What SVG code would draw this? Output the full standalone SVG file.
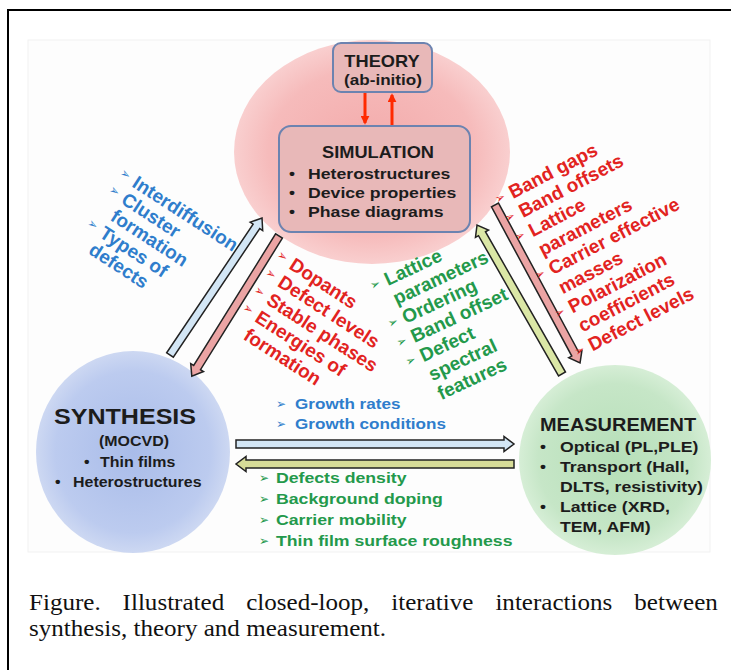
<svg xmlns="http://www.w3.org/2000/svg" width="731" height="670" viewBox="0 0 731 670">
<defs>
<radialGradient id="pinkG" cx="50%" cy="50%" r="50%"><stop offset="0" stop-color="#f3aaaa"/><stop offset="0.75" stop-color="#f6bbbb"/><stop offset="1" stop-color="#f9cfcf"/></radialGradient>
<radialGradient id="blueG" cx="50%" cy="50%" r="50%"><stop offset="0" stop-color="#a9bce9"/><stop offset="0.8" stop-color="#bccbef"/><stop offset="1" stop-color="#cdd8f2"/></radialGradient>
<radialGradient id="greenG" cx="50%" cy="50%" r="50%"><stop offset="0" stop-color="#b6dfb8"/><stop offset="0.8" stop-color="#c6e6c7"/><stop offset="1" stop-color="#d6eed6"/></radialGradient>
<marker id="rh" viewBox="0 0 10 10" refX="8" refY="5" markerWidth="3" markerHeight="3" orient="auto"><path d="M0,0 L10,5 L0,10 z" fill="#ff2a00"/></marker>
<style>
.b{font-family:"Liberation Sans",Arial,sans-serif;font-weight:bold}
.k{fill:#1c1c1c}
.bl{fill:#2f7dcc}
.rd{fill:#e2231f}
.gn{fill:#23994b}
.bu{font-family:"DejaVu Sans",sans-serif;font-size:12px}
.box{fill:#e8b8b8;stroke:#6c83b0;stroke-width:2}
.arr{stroke:#222;stroke-width:1.5;stroke-linejoin:miter}
.cap{font-family:"Liberation Serif","Times New Roman",serif;font-size:23px;fill:#111}
</style>
</defs>
<rect x="0" y="0" width="731" height="670" fill="#fff"/>
<rect x="8" y="10" width="760" height="700" fill="#fff" stroke="#000" stroke-width="2"/>
<rect x="28" y="40" width="682" height="512" fill="#fdfdfd" stroke="#f1f1f1"/>

<g id="theory-sim">
<ellipse cx="372" cy="152" rx="138" ry="112" fill="url(#pinkG)"/>
</g>
<g id="synthesis">
<ellipse cx="133" cy="452" rx="97" ry="101" fill="url(#blueG)"/>
<text class="b k" font-size="22" text-anchor="middle" transform="matrix(1.14 0 0 1 125 424)">SYNTHESIS</text>
<text class="b k" font-size="14" text-anchor="middle" transform="matrix(1.14 0 0 1 134 446)">(MOCVD)</text>
<text class="b k" font-size="14" transform="matrix(1.14 0 0 1 84 467)">•</text>
<text class="b k" font-size="14" transform="matrix(1.14 0 0 1 100 467)">Thin films</text>
<text class="b k" font-size="14" transform="matrix(1.14 0 0 1 55 487)">•</text>
<text class="b k" font-size="14" transform="matrix(1.14 0 0 1 73 487)">Heterostructures</text>
</g>
<g id="measurement">
<ellipse cx="615" cy="460" rx="96" ry="95" fill="url(#greenG)"/>
<text class="b k" font-size="17.5" transform="matrix(1.14 0 0 1 540 431)">MEASUREMENT</text>
<text class="b k" font-size="15" transform="matrix(1.14 0 0 1 540 452)">•</text>
<text class="b k" font-size="15.5" transform="matrix(1.14 0 0 1 560 452)">Optical (PL,PLE)</text>
<text class="b k" font-size="15" transform="matrix(1.14 0 0 1 540 472)">•</text>
<text class="b k" font-size="15.5" transform="matrix(1.14 0 0 1 560 472)">Transport (Hall,</text>
<text class="b k" font-size="15.5" transform="matrix(1.14 0 0 1 560 492)">DLTS, resistivity)</text>
<text class="b k" font-size="15" transform="matrix(1.14 0 0 1 540 512)">•</text>
<text class="b k" font-size="15.5" transform="matrix(1.14 0 0 1 560 512)">Lattice (XRD,</text>
<text class="b k" font-size="15.5" transform="matrix(1.14 0 0 1 560 532)">TEM, AFM)</text>
</g>
<g id="theory">
<rect class="box" x="333" y="43" width="99" height="49" rx="8"/>
<text class="b k" font-size="16" text-anchor="middle" transform="matrix(1.14 0 0 1 382 67)">THEORY</text>
<text class="b k" font-size="15" text-anchor="middle" transform="matrix(1.14 0 0 1 383 85)">(ab-initio)</text>
</g>
<g id="simulation">
<rect class="box" x="279" y="126" width="191" height="106" rx="12"/>
<text class="b k" font-size="16" text-anchor="middle" transform="matrix(1.14 0 0 1 378 158)">SIMULATION</text>
<text class="b k" font-size="15" transform="matrix(1.14 0 0 1 289 179)">•</text>
<text class="b k" font-size="15.5" transform="matrix(1.14 0 0 1 308 179)">Heterostructures</text>
<text class="b k" font-size="15" transform="matrix(1.14 0 0 1 289 198)">•</text>
<text class="b k" font-size="15.5" transform="matrix(1.14 0 0 1 308 198)">Device properties</text>
<text class="b k" font-size="15" transform="matrix(1.14 0 0 1 289 217)">•</text>
<text class="b k" font-size="15.5" transform="matrix(1.14 0 0 1 308 217)">Phase diagrams</text>
</g>

<g id="connectors">
<line x1="365" y1="93" x2="365" y2="123" stroke="#ff2a00" stroke-width="3" marker-end="url(#rh)"/>
<line x1="392" y1="125" x2="392" y2="95" stroke="#ff2a00" stroke-width="3" marker-end="url(#rh)"/>
<polygon class="arr" fill="#d3e6f5" transform="translate(170 355) rotate(-56.1)" points="0,-4 155,-4 155,-7.5 165,0 155,7.5 155,4 0,4"/>
<polygon class="arr" fill="#eba4a4" transform="translate(279 236) rotate(121.9)" points="0,-4 155,-4 155,-7.5 165,0 155,7.5 155,4 0,4"/>
<polygon class="arr" fill="#dbe7a6" transform="translate(562 374) rotate(-119.7)" points="0,-4 161.5,-4 161.5,-7.5 171.5,0 161.5,7.5 161.5,4 0,4"/>
<polygon class="arr" fill="#eba4a4" transform="translate(495 205) rotate(61.7)" points="0,-4 169.4,-4 169.4,-7.5 179.4,0 169.4,7.5 169.4,4 0,4"/>
<polygon class="arr" fill="#d3e6f5" transform="translate(236 444)" points="0,-4 268,-4 268,-7.5 278,0 268,7.5 268,4 0,4"/>
<polygon class="arr" fill="#d7dc98" transform="translate(514 464) rotate(180)" points="0,-4 268,-4 268,-7.5 278,0 268,7.5 268,4 0,4"/>
</g>

<g id="labels-syn-sim" class="b bl" font-size="19" transform="translate(131 186) rotate(33)">
<text class="bu" x="-16" y="-3">➢</text><text x="0" y="0">Interdiffusion</text>
<text class="bu" x="-16" y="17">➢</text><text x="0" y="20">Cluster</text>
<text x="0" y="40">formation</text>
<text class="bu" x="-16" y="57">➢</text><text x="0" y="60">Types of</text>
<text x="0" y="80">defects</text>
</g>
<g id="labels-sim-syn" class="b rd" font-size="19" transform="translate(288 268) rotate(33)">
<text class="bu" x="-16" y="-3">➢</text><text x="0" y="0">Dopants</text>
<text class="bu" x="-16" y="18">➢</text><text x="0" y="21">Defect levels</text>
<text class="bu" x="-16" y="39">➢</text><text x="0" y="42">Stable phases</text>
<text class="bu" x="-16" y="60">➢</text><text x="0" y="63">Energies of</text>
<text x="0" y="84">formation</text>
</g>
<g id="labels-meas-sim" class="b gn" font-size="19" transform="translate(388 286) rotate(-25)">
<text class="bu" x="-16" y="-3">➢</text><text x="0" y="0">Lattice</text>
<text x="0" y="21">parameters</text>
<text class="bu" x="-16" y="39">➢</text><text x="0" y="42">Ordering</text>
<text class="bu" x="-16" y="60">➢</text><text x="0" y="63">Band offset</text>
<text class="bu" x="-16" y="81">➢</text><text x="0" y="84">Defect</text>
<text x="0" y="105">spectral</text>
<text x="0" y="126">features</text>
</g>
<g id="labels-sim-meas" class="b rd" font-size="19" transform="translate(513 199) rotate(-27.5)">
<text class="bu" x="-16" y="-3">➢</text><text x="0" y="0">Band gaps</text>
<text class="bu" x="-16" y="18.5">➢</text><text x="0" y="21.5">Band offsets</text>
<text class="bu" x="-16" y="40">➢</text><text x="0" y="43">Lattice</text>
<text x="0" y="64.5">parameters</text>
<text class="bu" x="-16" y="83">➢</text><text x="0" y="86">Carrier effective</text>
<text x="0" y="107.5">masses</text>
<text class="bu" x="-16" y="126">➢</text><text x="0" y="129">Polarization</text>
<text x="0" y="150.5">coefficients</text>
<text class="bu" x="-16" y="169">➢</text><text x="0" y="172">Defect levels</text>
</g>
<g id="labels-syn-meas" class="b bl" font-size="15">
<text class="bu" x="276" y="408">➢</text><text transform="matrix(1.14 0 0 1 295 409)">Growth rates</text>
<text class="bu" x="276" y="428">➢</text><text transform="matrix(1.14 0 0 1 295 429)">Growth conditions</text>
</g>
<g id="labels-meas-syn" class="b gn" font-size="15.5">
<text class="bu" x="259" y="482">➢</text><text transform="matrix(1.14 0 0 1 276 483)">Defects density</text>
<text class="bu" x="259" y="503">➢</text><text transform="matrix(1.14 0 0 1 276 504)">Background doping</text>
<text class="bu" x="259" y="524">➢</text><text transform="matrix(1.14 0 0 1 276 525)">Carrier mobility</text>
<text class="bu" x="259" y="545">➢</text><text transform="matrix(1.14 0 0 1 276 546)">Thin film surface roughness</text>
</g>

<g id="caption" class="cap">
<text transform="matrix(1.09 0 0 1 29 610)">Figure.</text>
<text transform="matrix(1.09 0 0 1 122.6 610)">Illustrated</text>
<text transform="matrix(1.09 0 0 1 246.2 610)">closed-loop,</text>
<text transform="matrix(1.09 0 0 1 391.3 610)">iterative</text>
<text transform="matrix(1.09 0 0 1 495.4 610)">interactions</text>
<text transform="matrix(1.09 0 0 1 634.3 610)">between</text>
<text transform="matrix(1.09 0 0 1 29 636)">synthesis, theory and measurement.</text>
</g>
</svg>
